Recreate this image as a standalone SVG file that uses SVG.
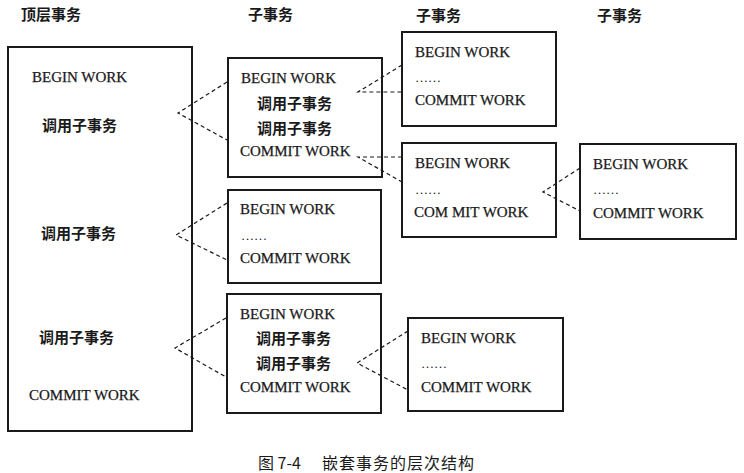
<svg xmlns="http://www.w3.org/2000/svg" width="744" height="473" viewBox="0 0 744 473">
<style>
.box{fill:none;stroke:#1a1a1a;stroke-width:2}
.en{font-family:"Liberation Serif","Times New Roman",serif;font-size:15px;fill:#1a1a1a;stroke:#1a1a1a;stroke-width:0.25}
.dots{font-family:"Liberation Serif",serif;font-size:13px;fill:#1a1a1a}
.cn{font-family:"Noto Sans CJK SC","Noto Sans CJK JP",sans-serif;font-size:15px;font-weight:bold;fill:#1a1a1a}
.cap{font-family:"Noto Sans CJK SC",sans-serif;font-size:16px;fill:#1a1a1a}
.dash{fill:none;stroke:#1a1a1a;stroke-width:1.2;stroke-dasharray:4 3}
</style>
<rect width="744" height="473" fill="#fff"/>
<g id="headers">
<text class="cn" x="21" y="20">顶层事务</text>
<text class="cn" x="248" y="20">子事务</text>
<text class="cn" x="416" y="21">子事务</text>
<text class="cn" x="597" y="21">子事务</text>
</g>
<g id="top">
<rect class="box" x="8" y="47" width="184" height="384"/>
<text class="en" x="32" y="82">BEGIN WORK</text>
<text class="cn" x="42" y="131">调用子事务</text>
<text class="cn" x="41" y="239">调用子事务</text>
<text class="cn" x="39" y="343">调用子事务</text>
<text class="en" x="29" y="400">COMMIT WORK</text>
</g>
<g id="subA">
<rect class="box" x="228" y="58" width="154" height="119"/>
<text class="en" x="241" y="83">BEGIN WORK</text>
<text class="cn" x="257" y="109">调用子事务</text>
<text class="cn" x="257" y="134">调用子事务</text>
<text class="en" x="240" y="156">COMMIT WORK</text>
</g>
<g id="subB">
<rect class="box" x="228" y="190" width="153" height="93"/>
<text class="en" x="240" y="214">BEGIN WORK</text>
<text class="dots" x="241" y="240">……</text>
<text class="en" x="240" y="263">COMMIT WORK</text>
</g>
<g id="subC">
<rect class="box" x="227" y="294" width="154" height="119"/>
<text class="en" x="240" y="319">BEGIN WORK</text>
<text class="cn" x="256" y="344">调用子事务</text>
<text class="cn" x="256" y="369">调用子事务</text>
<text class="en" x="240" y="392">COMMIT WORK</text>
</g>
<g id="subD">
<rect class="box" x="402" y="32" width="154" height="94"/>
<text class="en" x="415" y="57">BEGIN WORK</text>
<text class="dots" x="415" y="82">……</text>
<text class="en" x="415" y="105">COMMIT WORK</text>
</g>
<g id="subE">
<rect class="box" x="402" y="143" width="154" height="94"/>
<text class="en" x="415" y="168">BEGIN WORK</text>
<text class="dots" x="415" y="194">……</text>
<text class="en" x="414" y="217">COM MIT WORK</text>
</g>
<g id="subF">
<rect class="box" x="580" y="144" width="156" height="95"/>
<text class="en" x="593" y="169">BEGIN WORK</text>
<text class="dots" x="593" y="194">……</text>
<text class="en" x="593" y="218">COMMIT WORK</text>
</g>
<g id="subG">
<rect class="box" x="408" y="318" width="155" height="93"/>
<text class="en" x="421" y="343">BEGIN WORK</text>
<text class="dots" x="421" y="368">……</text>
<text class="en" x="421" y="392">COMMIT WORK</text>
</g>
<g id="connectors">
<path class="dash" d="M227,82 L178,113 L227,140"/>
<path class="dash" d="M227,203 L176,235 L227,260"/>
<path class="dash" d="M226,318 L175,348 L226,377"/>
<path class="dash" d="M402,65 L358,92 L402,92"/>
<path class="dash" d="M402,157 L358,157 L402,182"/>
<path class="dash" d="M580,168 L543,192 L580,211"/>
<path class="dash" d="M408,331 L357,363 L408,390"/>
</g>
<g id="caption">
<text class="cap" x="258" y="469">图 7-4</text>
<text class="cap" x="322" y="469" letter-spacing="1">嵌套事务的层次结构</text>
</g>
</svg>
